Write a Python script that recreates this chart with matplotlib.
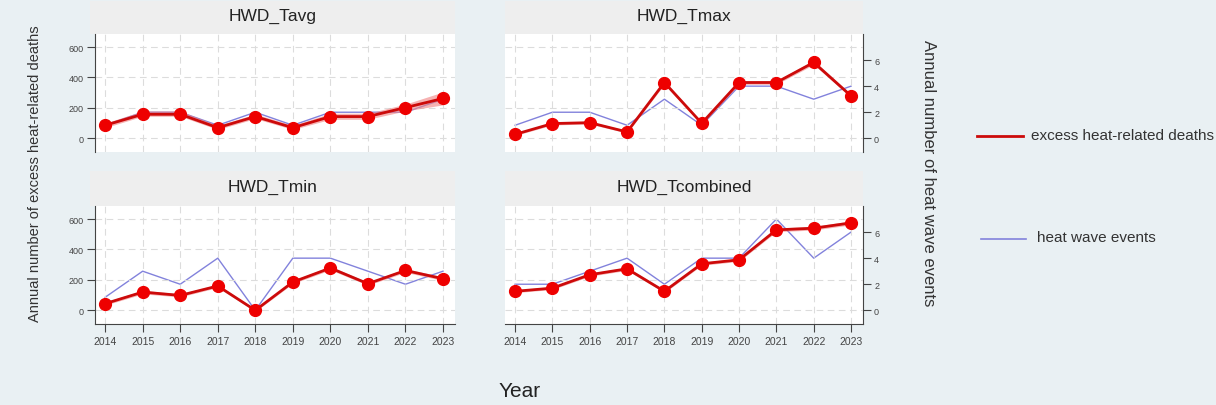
import matplotlib.pyplot as plt
from matplotlib.lines import Line2D
from matplotlib.patches import Rectangle

plt.rcParams['font.family'] = ['Liberation Sans', 'DejaVu Sans']

years = [2014, 2015, 2016, 2017, 2018, 2019, 2020, 2021, 2022, 2023]
panel_names = ['HWD_Tavg', 'HWD_Tmax', 'HWD_Tmin', 'HWD_Tcombined']

# excess heat-related deaths (left axis)
deaths_tavg = [86, 158, 158, 70, 143, 70, 143, 143, 202, 262]
deaths_tmax = [26, 97, 103, 42, 367, 99, 367, 367, 499, 279]
deaths_tmin = [44, 120, 98, 160, 0, 186, 278, 175, 262, 208]
deaths_tcomb = [125, 146, 234, 273, 125, 306, 332, 529, 540, 575]

# confidence band around the deaths
low_tavg = [70, 145, 145, 58, 130, 58, 125, 125, 180, 220]
high_tavg = [100, 180, 180, 85, 160, 85, 165, 165, 225, 305]
low_tmax = [18, 88, 94, 34, 355, 90, 355, 355, 485, 268]
high_tmax = [34, 106, 112, 50, 379, 108, 379, 379, 513, 290]
low_tmin = [34, 108, 88, 150, -8, 176, 266, 165, 250, 196]
high_tmin = [54, 132, 108, 170, 8, 196, 290, 185, 274, 220]
low_tcomb = [116, 137, 224, 263, 116, 296, 322, 517, 528, 562]
high_tcomb = [134, 155, 244, 283, 134, 316, 342, 541, 552, 588]

# heat wave events (right axis)
events_tavg = [1, 2, 2, 1, 2, 1, 2, 2, 2, 3]
events_tmax = [1, 2, 2, 1, 3, 1, 4, 4, 3, 4]
events_tmin = [1, 3, 2, 4, 0, 4, 4, 3, 2, 3]
events_tcomb = [2, 2, 3, 4, 2, 4, 4, 7, 4, 6]

deaths = [deaths_tavg, deaths_tmax, deaths_tmin, deaths_tcomb]
lows = [low_tavg, low_tmax, low_tmin, low_tcomb]
highs = [high_tavg, high_tmax, high_tmin, high_tcomb]
events = [events_tavg, events_tmax, events_tmin, events_tcomb]

W, H = 1216, 406
BG = '#e9f0f3'
STRIP = '#eeeeee'
RED = '#cc0a0a'
RED_MK = '#ee0000'
BLUE = '#8282dc'
GRID = '#dcdcdc'
AX_COL = '#444444'

fig = plt.figure(figsize=(W / 100, H / 100), dpi=100, facecolor=BG)


def fbox(x0, y0, x1, y1):
    # pixel box -> figure fraction [left, bottom, width, height]
    return [x0 / W, 1 - y1 / H, (x1 - x0) / W, (y1 - y0) / H]


cols = [(95, 455), (505, 863)]
rows = [(35, 153), (207, 325)]
strips = [(2, 35), (172, 207)]

for i, name in enumerate(panel_names):
    r, c = divmod(i, 2)
    x0, x1 = cols[c]
    y0, y1 = rows[r]

    # title strip
    sx0 = x0 - 5 if c == 0 else x0
    fig.add_artist(Rectangle((sx0 / W, 1 - strips[r][1] / H),
                             (x1 - sx0) / W, (strips[r][1] - strips[r][0]) / H,
                             transform=fig.transFigure, facecolor=STRIP,
                             edgecolor='none', zorder=0))
    fig.text((sx0 + x1) / 2 / W, 1 - (strips[r][0] + strips[r][1]) / 2 / H + 0.004,
             name, ha='center', va='center', fontsize=12.5, color='#222222')

    ax = fig.add_axes(fbox(x0, y0, x1, y1))
    ax2 = ax.twinx()
    # deaths axis drawn above the events axis
    ax2.patch.set_visible(True)
    ax2.set_facecolor('white')
    ax.set_zorder(ax2.get_zorder() + 1)
    ax.patch.set_visible(False)

    ax2.plot(years, events[i], color=BLUE, lw=1.0, zorder=2)

    ax.fill_between(years, lows[i], highs[i], color='#f08080', alpha=0.6,
                    lw=0, zorder=1)
    ax.plot(years, deaths[i], color=RED, lw=2.0, zorder=3)
    ax.plot(years, deaths[i], 'o', color=RED_MK, ms=8.5, mec=RED_MK, zorder=4)

    ax.set_xlim(2013.73, 2023.32)
    ax.set_ylim(-90, 686)
    ax2.set_ylim(-1.05, 8.0)
    ax.set_yticks([0, 200, 400, 600])
    ax2.set_yticks([0, 2, 4, 6])
    ax.set_xticks(years)

    ax.grid(True, color=GRID, ls=(0, (6, 4)), lw=0.8)
    ax.set_axisbelow(True)

    for sp in list(ax.spines.values()) + list(ax2.spines.values()):
        sp.set_visible(False)

    for a in (ax, ax2):
        a.tick_params(axis='both', direction='out', length=6, width=0.8,
                      color=AX_COL, labelcolor=AX_COL, labelsize=6.5, pad=2)

    if c == 0:
        ax.spines['left'].set_visible(True)
        ax.spines['left'].set_color(AX_COL)
        ax2.tick_params(axis='y', right=False, labelright=False)
    else:
        ax.tick_params(axis='y', left=False, labelleft=False)
        ax2.spines['right'].set_visible(True)
        ax2.spines['right'].set_color(AX_COL)

    if r == 1:
        ax.spines['bottom'].set_visible(True)
        ax.spines['bottom'].set_color(AX_COL)
        ax.tick_params(axis='x', bottom=True, labelbottom=True, labelsize=7.5,
                       pad=3)
    else:
        ax.tick_params(axis='x', bottom=False, labelbottom=False)

fig.text(35 / W, 1 - 173.5 / H, 'Annual number of excess heat-related deaths',
         rotation=90, ha='center', va='center', fontsize=10.5, color='#333333')
fig.text(928 / W, 1 - 173 / H, 'Annual number of heat wave events',
         rotation=-90, ha='center', va='center', fontsize=12, color='#333333')
fig.text(520 / W, 1 - 392 / H, 'Year', ha='center', va='center',
         fontsize=15, color='#222222')

# legend
fig.add_artist(Line2D([977 / W, 1023 / W], [1 - 137 / H, 1 - 137 / H],
                      transform=fig.transFigure, color=RED, lw=2.0))
fig.text(1031 / W, 1 - 136 / H, 'excess heat-related deaths', ha='left',
         va='center', fontsize=11, color='#333333')
fig.add_artist(Line2D([981 / W, 1026 / W], [1 - 240 / H, 1 - 240 / H],
                      transform=fig.transFigure, color=BLUE, lw=1.2))
fig.text(1037 / W, 1 - 238 / H, 'heat wave events', ha='left',
         va='center', fontsize=11, color='#333333')

fig.savefig('out.png', dpi=100, facecolor=BG)
